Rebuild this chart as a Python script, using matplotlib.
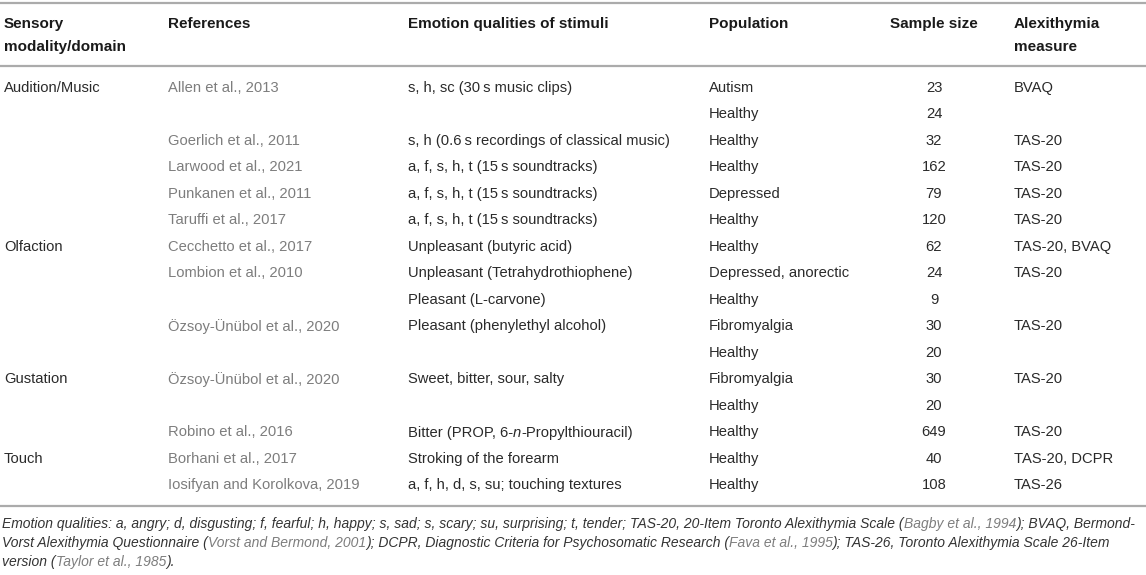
"""Table: studies on alexithymia and emotion perception across sensory modalities."""

import matplotlib

matplotlib.use("Agg")
import matplotlib.pyplot as plt

plt.rcParams["font.family"] = ["Liberation Sans", "DejaVu Sans"]

# ---- table data -----------------------------------------------------------
headers = [
    "Sensory\nmodality/domain",
    "References",
    "Emotion qualities of stimuli",
    "Population",
    "Sample size",
    "Alexithymia\nmeasure",
]

modality = [
    "Audition/Music", "", "", "", "", "",
    "Olfaction", "", "", "", "",
    "Gustation", "", "",
    "Touch", "",
]
references = [
    "Allen et al., 2013", "", "Goerlich et al., 2011", "Larwood et al., 2021",
    "Punkanen et al., 2011", "Taruffi et al., 2017",
    "Cecchetto et al., 2017", "Lombion et al., 2010", "",
    "Özsoy-Ünübol et al., 2020", "",
    "Özsoy-Ünübol et al., 2020", "", "Robino et al., 2016",
    "Borhani et al., 2017", "Iosifyan and Korolkova, 2019",
]
# a list entry is a run of (text, italic) pieces
stimuli = [
    "s, h, sc (30\u2009s music clips)", "",
    "s, h (0.6\u2009s recordings of classical music)",
    "a, f, s, h, t (15\u2009s soundtracks)",
    "a, f, s, h, t (15\u2009s soundtracks)",
    "a, f, s, h, t (15\u2009s soundtracks)",
    "Unpleasant (butyric acid)", "Unpleasant (Tetrahydrothiophene)",
    "Pleasant (L-carvone)", "Pleasant (phenylethyl alcohol)", "",
    "Sweet, bitter, sour, salty", "",
    [("Bitter (PROP, 6-", False), ("n", True), ("-Propylthiouracil)", False)],
    "Stroking of the forearm", "a, f, h, d, s, su; touching textures",
]
population = [
    "Autism", "Healthy", "Healthy", "Healthy", "Depressed", "Healthy",
    "Healthy", "Depressed, anorectic", "Healthy", "Fibromyalgia", "Healthy",
    "Fibromyalgia", "Healthy", "Healthy", "Healthy", "Healthy",
]
sample_size = [23, 24, 32, 162, 79, 120, 62, 24, 9, 30, 20, 30, 20, 649, 40, 108]
measure = [
    "BVAQ", "", "TAS-20", "TAS-20", "TAS-20", "TAS-20",
    "TAS-20, BVAQ", "TAS-20", "", "TAS-20", "",
    "TAS-20", "", "TAS-20", "TAS-20, DCPR", "TAS-26",
]

# footnote lines: (text, is_citation)
footnote = [
    [("Emotion qualities: a, angry; d, disgusting; f, fearful; h, happy; s, sad; "
      "s, scary; su, surprising; t, tender; TAS-20, 20-Item Toronto Alexithymia "
      "Scale (", False), ("Bagby et al., 1994", True), ("); BVAQ, Bermond-", False)],
    [("Vorst Alexithymia Questionnaire (", False), ("Vorst and Bermond, 2001", True),
     ("); DCPR, Diagnostic Criteria for Psychosomatic Research (", False),
     ("Fava et al., 1995", True),
     ("); TAS-26, Toronto Alexithymia Scale 26-Item", False)],
    [("version (", False), ("Taylor et al., 1985", True), (").", False)],
]

# ---- layout ---------------------------------------------------------------
W, H = 1146, 575
col_x = [4, 168, 408, 709, 934, 1014]
row_y0, row_step = 88, 26.47
rule_color = "#ababab"
text_color = "#2a2a2a"
ref_color = "#7d7d7d"
body_fs = 10.6
head_fs = 11.0

fig = plt.figure(figsize=(W / 100, H / 100), dpi=100)
ax = fig.add_axes([0, 0, 1, 1])
ax.set_xlim(0, W)
ax.set_ylim(H, 0)
ax.axis("off")

for y in (3, 66, 506):
    ax.plot([0, W], [y, y], color=rule_color, lw=1.6, solid_capstyle="butt")

for i, h in enumerate(headers):
    ha = "center" if i == 4 else "left"
    ax.text(col_x[i], 17, h, ha=ha, va="top", fontsize=head_fs,
            fontweight="bold", color="#1a1a1a", linespacing=1.8)


def run_text(x, y, pieces, color, fs):
    """Draw consecutive text pieces on one baseline, returning the artists."""
    colors = color if isinstance(color, list) else [color] * len(pieces)
    first, italic = pieces[0]
    prev = ax.text(x, y, first, ha="left", va="baseline", fontsize=fs,
                   style="italic" if italic else "normal", color=colors[0])
    arts = [prev]
    for (txt, flag), c in zip(pieces[1:], colors[1:]):
        prev = ax.annotate(txt, xy=(1, 0), xycoords=prev, ha="left", va="bottom",
                           fontsize=fs, style="italic" if flag else "normal",
                           color=c, annotation_clip=False)
        arts.append(prev)
    return arts


for r in range(len(population)):
    y = row_y0 + r * row_step
    kw = dict(va="center", fontsize=body_fs)
    if modality[r]:
        ax.text(col_x[0], y, modality[r], color=text_color, ha="left", **kw)
    if references[r]:
        ax.text(col_x[1], y, references[r], color=ref_color, ha="left", **kw)
    s = stimuli[r]
    if isinstance(s, list):
        run_text(col_x[2], y + 5, s, text_color, body_fs)
    elif s:
        ax.text(col_x[2], y, s, color=text_color, ha="left", **kw)
    ax.text(col_x[3], y, population[r], color=text_color, ha="left", **kw)
    ax.text(col_x[4], y, str(sample_size[r]), color=text_color, ha="center", **kw)
    if measure[r]:
        ax.text(col_x[5], y, measure[r], color=text_color, ha="left", **kw)

# footnote, scaled so the first line spans the table width
foot_y = [528, 547, 566]
foot_fs = 9.0
foot_arts = []
for line, y in zip(footnote, foot_y):
    cols = [ref_color if cite else "#333333" for _, cite in line]
    pieces = [(t, True) for t, _ in line]
    foot_arts.append(run_text(2, y, pieces, cols, foot_fs))

renderer = fig.canvas.get_renderer()
first_line = foot_arts[0]
left = first_line[0].get_window_extent(renderer).x0
right = first_line[-1].get_window_extent(renderer).x1
scale = (1140 - 2) / (right - left)
for arts in foot_arts:
    for a in arts:
        a.set_fontsize(foot_fs * scale)

fig.savefig("out.png", dpi=100)
